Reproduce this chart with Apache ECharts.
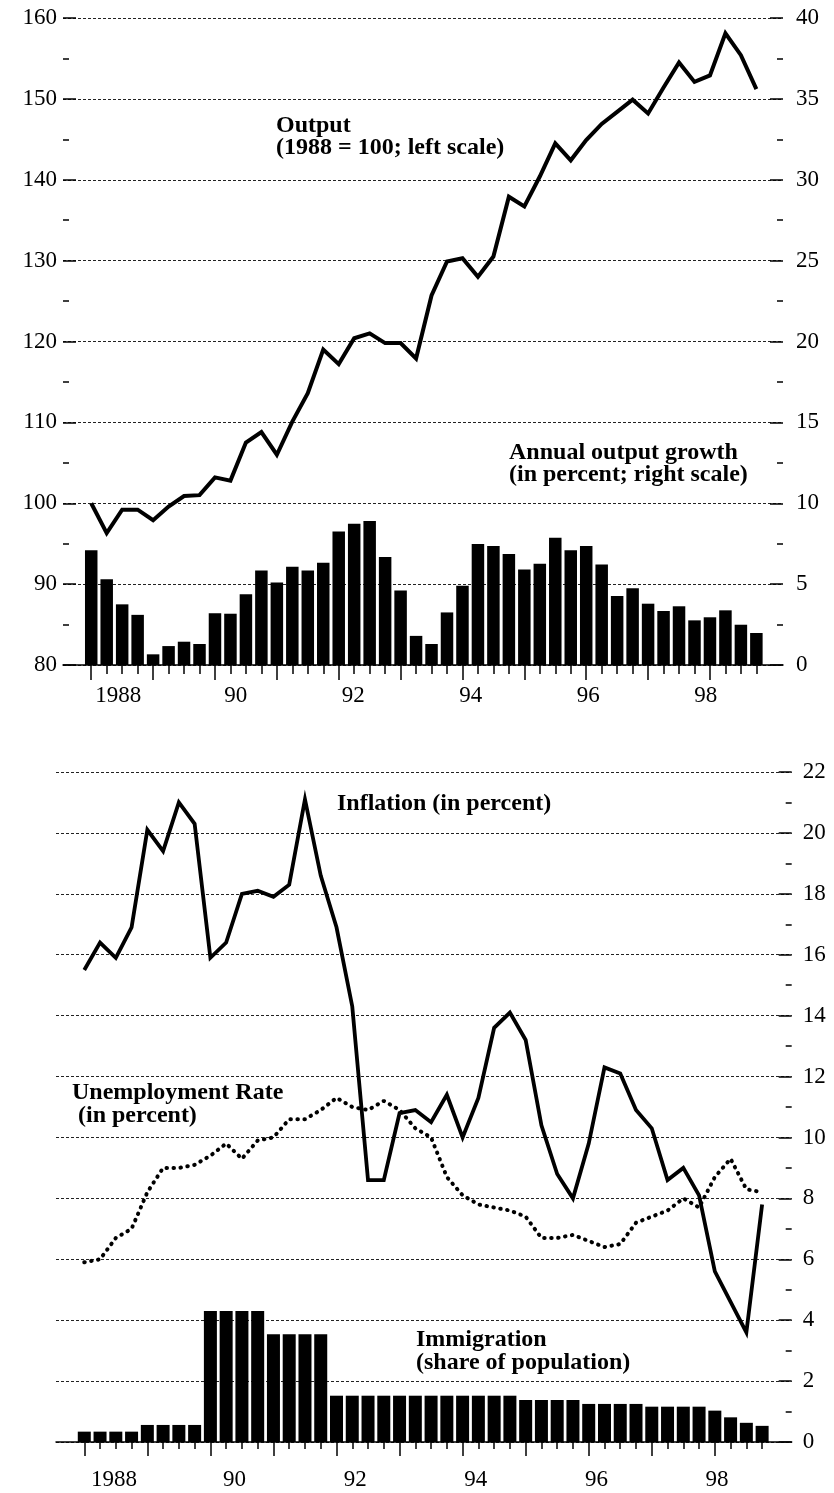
<!DOCTYPE html>
<html>
<head>
    <meta charset="utf-8">
    <title>Output, growth, inflation, unemployment and immigration</title>
    <script src="https://cdn.jsdelivr.net/npm/echarts@6/dist/echarts.min.js"></script>
    <style type="text/css">
        html,
        body {
            margin: 0;
            padding: 0;
            background: #fff;
        }
    </style>
</head>
<body>
    <div id="chart" style="width: 834px; height: 1493px;"></div>

    <script type="text/javascript">
        // quarterly categories 1988Q1 .. 1998Q4
        var quarters = [];
        for (var yr = 1988; yr <= 1998; yr++) {
            for (var q = 1; q <= 4; q++) quarters.push(yr + 'Q' + q);
        }
        var yearLabels = ['1988', '90', '92', '94', '96', '98'];

        // top panel
        var outputIndex = [100, 96.3, 99.2, 99.2, 97.9, 99.6, 100.9, 101.0, 103.2, 102.8,
            107.5, 108.8, 106.0, 110.1, 113.6, 119.0, 117.2, 120.4, 121.0, 119.8,
            119.8, 117.9, 125.7, 129.9, 130.3, 128.0, 130.5, 137.9, 136.7, 140.4,
            144.5, 142.4, 144.9, 146.9, 148.4, 149.9, 148.2, 151.4, 154.5, 152.1,
            152.9, 158.1, 155.4, 151.2];
        var outputGrowth = [7.1, 5.3, 3.75, 3.1, 0.66, 1.17, 1.44, 1.3, 3.2, 3.17,
            4.37, 5.85, 5.1, 6.07, 5.85, 6.32, 8.26, 8.73, 8.9, 6.67,
            4.6, 1.8, 1.3, 3.25, 4.9, 7.48, 7.35, 6.86, 5.9, 6.26,
            7.87, 7.1, 7.35, 6.22, 4.26, 4.74, 3.79, 3.34, 3.63, 2.76,
            2.95, 3.38, 2.49, 1.98];

        // bottom panel
        var inflation = [15.5, 16.4, 15.9, 16.9, 20.1, 19.4, 21.0, 20.3, 15.9, 16.4,
            18.0, 18.1, 17.9, 18.3, 21.1, 18.6, 16.9, 14.3, 8.6, 8.6,
            10.8, 10.9, 10.5, 11.4, 10.0, 11.3, 13.6, 14.1, 13.2, 10.4,
            8.8, 8.0, 9.8, 12.3, 12.1, 10.9, 10.3, 8.6, 9.0, 8.1,
            5.6, 4.6, 3.6, 7.8];
        var unemployment = [5.9, 6.0, 6.7, 7.0, 8.2, 9.0, 9.0, 9.1, 9.4, 9.8,
            9.3, 9.9, 10.0, 10.6, 10.6, 10.9, 11.3, 11.0, 10.9, 11.2,
            10.9, 10.3, 10.0, 8.7, 8.1, 7.8, 7.7, 7.6, 7.4, 6.7,
            6.7, 6.8, 6.6, 6.4, 6.5, 7.2, 7.4, 7.6, 8.0, 7.7,
            8.7, 9.3, 8.3, 8.2];
        var immigration = [0.34, 0.34, 0.34, 0.34, 0.56, 0.56, 0.56, 0.56, 4.3, 4.3,
            4.3, 4.3, 3.54, 3.54, 3.54, 3.54, 1.52, 1.52, 1.52, 1.52,
            1.52, 1.52, 1.52, 1.52, 1.52, 1.52, 1.52, 1.52, 1.38, 1.38,
            1.38, 1.38, 1.25, 1.25, 1.25, 1.25, 1.16, 1.16, 1.16, 1.16,
            1.03, 0.81, 0.63, 0.53];

        var FONT = '"Liberation Serif", "Times New Roman", serif';
        var INK = '#000';
        var TITLE_FONT = 'bold 24px ' + FONT;

        var myChart = echarts.init(document.getElementById('chart'), null, { renderer: 'canvas' });

        var labelStyle = { color: INK, fontFamily: FONT, fontSize: 23 };
        var gridLine = { show: true, lineStyle: { color: '#222', width: 1, type: [3, 2] } };

        function frameX(gridIndex) {
            return {
                type: 'value', gridIndex: gridIndex, min: 0, max: 1,
                axisLine: { show: true, onZero: false, lineStyle: { color: INK, width: 1.5 } },
                axisTick: { show: false }, axisLabel: { show: false }, splitLine: { show: false }
            };
        }
        function tickX(gridIndex, interval, len) {
            return {
                type: 'category', gridIndex: gridIndex, data: quarters, boundaryGap: true,
                axisLine: { show: false, onZero: false },
                axisTick: { show: true, interval: interval, alignWithLabel: true, length: len, lineStyle: { color: INK, width: 1.5 } },
                axisLabel: { show: false }, splitLine: { show: false }
            };
        }
        function yearX(gridIndex, margin) {
            return {
                type: 'category', gridIndex: gridIndex, data: yearLabels, boundaryGap: true,
                axisLine: { show: false, onZero: false }, axisTick: { show: false },
                axisLabel: Object.assign({ margin: margin, interval: 0 }, labelStyle)
            };
        }
        function hiddenY(gridIndex, min, max) {
            return { type: 'value', gridIndex: gridIndex, min: min, max: max, show: false, axisLine: { onZero: false } };
        }
        function scaleY(gridIndex, pos, min, max, step, margin, grid) {
            return {
                type: 'value', gridIndex: gridIndex, position: pos, min: min, max: max, interval: step,
                axisLine: { show: false, onZero: false },
                axisTick: { show: true, inside: true, length: 13, lineStyle: { color: INK, width: 1.5 } },
                minorTick: { show: true, splitNumber: 2, length: 6, lineStyle: { color: INK, width: 1.5 } },
                axisLabel: Object.assign({ margin: margin }, labelStyle),
                splitLine: grid ? gridLine : { show: false }
            };
        }
        function note(x, y, text, lh) {
            return {
                type: 'text', x: x, y: y, z: 10,
                style: { text: text, font: TITLE_FONT, lineHeight: lh || 22, fill: INK, align: 'left', verticalAlign: 'top' }
            };
        }

        var option = {
            animation: false,
            backgroundColor: '#fff',
            grid: [
                { left: 63, top: 18, width: 720, height: 647 },     // top frame
                { left: 83.5, top: 18, width: 680.6, height: 647 }, // top data
                { left: 83.5, top: 18, width: 680.6, height: 647 }, // top long ticks
                { left: 59.5, top: 18, width: 705, height: 647 },   // top year labels
                { left: 56, top: 772, width: 735.7, height: 670 },  // bottom frame
                { left: 76.4, top: 772, width: 693.6, height: 670 },
                { left: 76.4, top: 772, width: 693.6, height: 670 },
                { left: 53.7, top: 772, width: 723.6, height: 670 }
            ],
            xAxis: [
                frameX(0), tickX(1, 0, 9), tickX(2, 3, 15), yearX(3, 19),
                frameX(4), tickX(5, 0, 7), tickX(6, 3, 14), yearX(7, 26)
            ],
            yAxis: [
                scaleY(0, 'left', 80, 160, 10, 6, true),
                scaleY(0, 'right', 0, 40, 5, 13, false),
                hiddenY(1, 80, 160),
                Object.assign(hiddenY(1, 0, 40), { position: 'right' }),
                hiddenY(2, 0, 1),
                hiddenY(3, 0, 1),
                scaleY(4, 'right', 0, 22, 2, 11, true),
                hiddenY(5, 0, 22),
                hiddenY(6, 0, 1),
                hiddenY(7, 0, 1)
            ],
            series: [
                {
                    name: 'Annual output growth', type: 'bar', xAxisIndex: 1, yAxisIndex: 3,
                    data: outputGrowth, barWidth: 12.5, itemStyle: { color: INK }
                },
                {
                    name: 'Output', type: 'line', xAxisIndex: 1, yAxisIndex: 2,
                    data: outputIndex, showSymbol: false, symbol: 'none',
                    lineStyle: { color: INK, width: 4, join: 'miter' }
                },
                {
                    name: 'Immigration', type: 'bar', xAxisIndex: 5, yAxisIndex: 7,
                    data: immigration, barWidth: 13, itemStyle: { color: INK }
                },
                {
                    name: 'Unemployment Rate', type: 'line', xAxisIndex: 5, yAxisIndex: 7,
                    data: unemployment, showSymbol: false, symbol: 'none',
                    lineStyle: { color: INK, width: 4, type: [0.5, 6.5], cap: 'round' }
                },
                {
                    name: 'Inflation', type: 'line', xAxisIndex: 5, yAxisIndex: 7,
                    data: inflation, showSymbol: false, symbol: 'none',
                    lineStyle: { color: INK, width: 3.8, join: 'miter' }
                }
            ],
            graphic: [
                note(276, 115, 'Output\n(1988 = 100; left scale)'),
                note(509, 442, 'Annual output growth\n(in percent; right scale)'),
                note(337, 793, 'Inflation (in percent)'),
                note(72, 1082, 'Unemployment Rate'),
                note(78, 1105, '(in percent)'),
                note(416, 1328, 'Immigration\n(share of population)', 23)
            ]
        };
        myChart.setOption(option);
    </script>
</body>
</html>
